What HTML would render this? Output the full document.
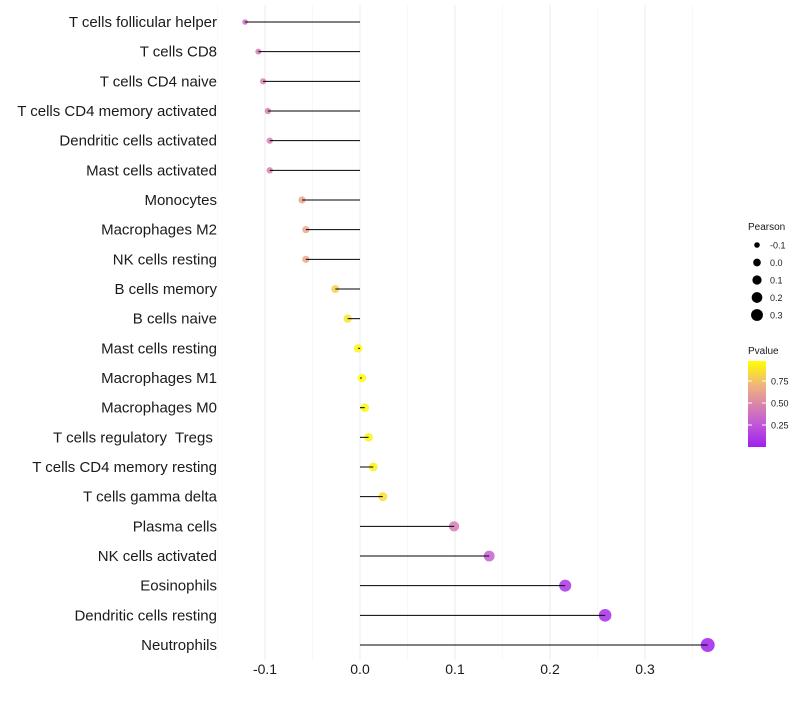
<!DOCTYPE html>
<html><head><meta charset="utf-8"><style>
body{margin:0;background:#fff;font-family:"Liberation Sans",sans-serif}
text{white-space:pre}
</style></head><body>
<svg id="chart" width="800" height="700" xmlns="http://www.w3.org/2000/svg"></svg>
<script>
const categories=["T cells follicular helper","T cells CD8","T cells CD4 naive","T cells CD4 memory activated","Dendritic cells activated","Mast cells activated","Monocytes","Macrophages M2","NK cells resting","B cells memory","B cells naive","Mast cells resting","Macrophages M1","Macrophages M0","T cells regulatory  Tregs ","T cells CD4 memory resting","T cells gamma delta","Plasma cells","NK cells activated","Eosinophils","Dendritic cells resting","Neutrophils"];
const pearson=[-0.121,-0.107,-0.102,-0.097,-0.095,-0.095,-0.061,-0.057,-0.057,-0.026,-0.013,-0.002,0.002,0.005,0.009,0.014,0.024,0.099,0.136,0.216,0.258,0.366];
const pvalues=[0.38,0.45,0.47,0.47,0.48,0.48,0.65,0.66,0.66,0.82,0.9,0.97,0.98,0.97,0.96,0.95,0.88,0.45,0.3,0.1,0.05,0.01];
const xTicks=[-0.1,0,0.1,0.2,0.3];
const xTickLabels=["-0.1","0.0","0.1","0.2","0.3"];
const sizeLegend=[-0.1,0,0.1,0.2,0.3];
const colorTicks=[0.25,0.5,0.75];

const svg=document.getElementById('chart');
const NS="http://www.w3.org/2000/svg";
function mk(t,a,p){const e=document.createElementNS(NS,t);for(const k in a)e.setAttribute(k,a[k]);(p||svg).appendChild(e);return e;}
const x=v=>360+v*950;
const y=i=>22+i*(623/(categories.length-1));
const r=v=>Math.sqrt(Math.max(4,18.05+84.6*v));
function lerp(a,b,t){return a.map((c,i)=>Math.round(c+(b[i]-c)*t));}
const stops=[[0,[160,32,240]],[0.3,[196,96,210]],[0.5,[218,134,170]],[0.7,[238,176,130]],[1,[255,255,0]]];
function col(p){p=Math.max(0,Math.min(1,p));for(let i=1;i<stops.length;i++){if(p<=stops[i][0]){const t=(p-stops[i-1][0])/(stops[i][0]-stops[i-1][0]);return 'rgb('+lerp(stops[i-1][1],stops[i][1],t).join(',')+')';}}return 'rgb(255,255,0)';}

[-0.15,-0.05,0.05,0.15,0.25,0.35].forEach(v=>{const g=mk('line',{x1:x(v),x2:x(v),y1:5,y2:660,stroke:'#f4f4f4','stroke-width':0.6});

});
xTicks.forEach((v,i)=>{const g=mk('line',{x1:x(v),x2:x(v),y1:5,y2:660,stroke:'#ebebeb','stroke-width':1});


const t=mk('text',{x:x(v),y:674,'text-anchor':'middle','font-size':14,fill:'#1a1a1a'});t.textContent=xTickLabels[i];

});

categories.forEach((c,i)=>{
const t=mk('text',{x:217,y:y(i)+5,'text-anchor':'end','font-size':15,fill:'#1a1a1a'});t.textContent=c;


const pt=mk('circle',{cx:x(pearson[i]),cy:y(i),r:r(pearson[i]),fill:col(pvalues[i]),'fill-opacity':0.85});


const l=mk('line',{x1:x(0),x2:x(pearson[i]),y1:y(i),y2:y(i),stroke:'#000','stroke-width':1});


});

const lt=mk('text',{x:748,y:230,'font-size':10,fill:'#1a1a1a'});lt.textContent='Pearson';


sizeLegend.forEach((v,i)=>{const yy=245+i*17.5;
const c=mk('circle',{cx:757,cy:yy,r:r(v)*0.9,fill:'#000'});


const t=mk('text',{x:770,y:yy+3.5,'font-size':9,fill:'#1a1a1a'});t.textContent=v.toFixed(1);

});
const pt2=mk('text',{x:748,y:354,'font-size':10,fill:'#1a1a1a'});pt2.textContent='Pvalue';


const defs=mk('defs',{});const lg=mk('linearGradient',{id:'g',x1:0,y1:1,x2:0,y2:0},defs);
stops.forEach(s=>mk('stop',{offset:s[0],'stop-color':col(s[0])},lg));
const cbTop=361,cbBot=447,pv=p=>cbBot-(p/0.977)*(cbBot-cbTop);
const bar=mk('rect',{x:748,y:cbTop,width:18,height:cbBot-cbTop,fill:'url(#g)'});


colorTicks.forEach(p=>{mk('line',{x1:748,x2:752,y1:pv(p),y2:pv(p),stroke:'#fff'});mk('line',{x1:762,x2:766,y1:pv(p),y2:pv(p),stroke:'#fff'});
const t=mk('text',{x:771,y:pv(p)+3.5,'font-size':9,fill:'#1a1a1a'});t.textContent=p.toFixed(2);

});
</script>
</body></html>
